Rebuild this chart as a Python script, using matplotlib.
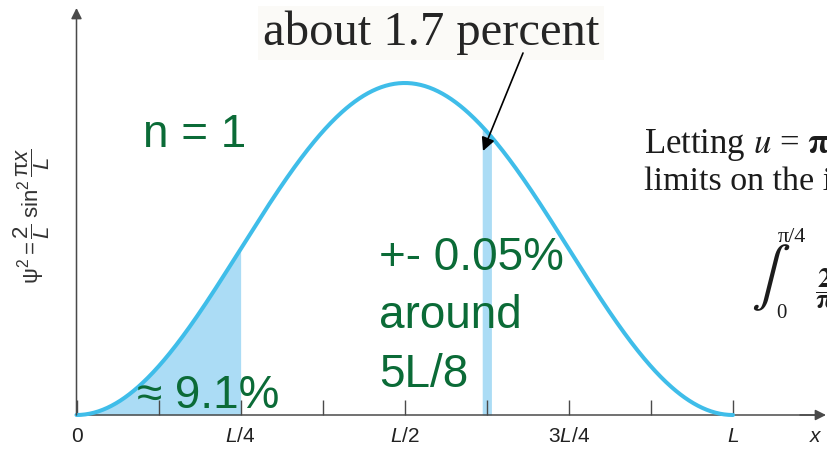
import numpy as np
import matplotlib
matplotlib.use("Agg")
import matplotlib.pyplot as plt

# ---- data ----
L = 1.0
n = 1
shade_range = [0.0, 0.25]          # shaded area 0 .. L/4  (≈ 9.1 %)
band_center = 5 / 8                # narrow band around 5L/8
band_halfwidth = 0.007
major_ticks = [0, 0.25, 0.5, 0.75, 1.0]
major_labels = ["0", "$L$/4", "$L$/2", "3$L$/4", "$L$"]
minor_ticks = [0.125, 0.375, 0.625, 0.875]

plt.rcParams["mathtext.fontset"] = "custom"
plt.rcParams["mathtext.rm"] = "Liberation Sans"
plt.rcParams["mathtext.it"] = "Liberation Sans:italic"
plt.rcParams["mathtext.bf"] = "Liberation Sans:bold"

W, H = 827, 449
fig = plt.figure(figsize=(W / 100, H / 100), dpi=100)
ax = fig.add_axes([0, 0, 1, 1])

# pixel -> data helpers (layout only)
X0, XL, Y0, YP = 76.5, 733.0, 415.0, 83.0
def dx(px):
    return (px - X0) / (XL - X0) * L
def dy(py):
    return (Y0 - py) / (Y0 - YP) * 2 / L

ax.set_xlim(dx(0), dx(W))
ax.set_ylim(dy(H), dy(0))

curve_c = "#3fbde9"
fill_c = "#abdcf5"
green = "#0b6b37"
axis_c = "#4a4a4a"
ink = "#1c1c1c"

x = np.linspace(0, L, 600)
psi2 = (2 / L) * np.sin(n * np.pi * x / L) ** 2

xs = np.linspace(shade_range[0], shade_range[1], 200)
ax.fill_between(xs, 0, (2 / L) * np.sin(n * np.pi * xs / L) ** 2, color=fill_c, lw=0, zorder=1)
xb = np.linspace(band_center - band_halfwidth, band_center + band_halfwidth, 20)
ax.fill_between(xb, 0, (2 / L) * np.sin(n * np.pi * xb / L) ** 2, color=fill_c, lw=0, zorder=1)

ax.plot(x, psi2, color=curve_c, lw=2.9, zorder=3, solid_capstyle="round")

# axes
for s in ["top", "right", "left"]:
    ax.spines[s].set_visible(False)
ax.spines["bottom"].set_position(("data", 0))
ax.spines["bottom"].set_bounds(0, dx(820))
ax.spines["bottom"].set_color(axis_c)
ax.spines["bottom"].set_linewidth(1.1)
ax.set_yticks([])
ax.set_xticks(major_ticks)
ax.set_xticklabels(major_labels)
ax.set_xticks(minor_ticks, minor=True)
ax.tick_params(axis="x", which="both", direction="in", length=11, width=1.0,
               color=axis_c, labelsize=15, pad=9, labelcolor="#222222")
for lab in ax.get_xticklabels():
    lab.set_family("Liberation Sans")

ax.annotate("", xy=(dx(826), 0), xytext=(dx(800), 0),
            arrowprops=dict(arrowstyle="-|>", color=axis_c, lw=1.1, mutation_scale=16,
                            shrinkA=0, shrinkB=0), zorder=4)
ax.annotate("", xy=(0, dy(8)), xytext=(0, 0),
            arrowprops=dict(arrowstyle="-|>", color=axis_c, lw=1.1, mutation_scale=16,
                            shrinkA=0, shrinkB=0), zorder=4)

ax.text(dx(815), dy(437), "x", fontsize=15, style="italic", family="Liberation Sans",
        ha="center", va="center", color="#222222")

# y label
ax.text(dx(32), dy(216),
        r"$\mathrm{ψ}^2 = \dfrac{2}{L}\;\mathrm{sin}^2\,\dfrac{\mathrm{π}x}{L}$",
        rotation=90, fontsize=16, ha="center", va="center", color="#333333")

# note with arrow
ax.text(dx(263), dy(45), "about 1.7 percent", fontsize=35, family="Liberation Serif",
        color="#252525", va="baseline", ha="left",
        bbox=dict(boxstyle="square,pad=0.1", fc="#fbfaf7", ec="none"))
ax.annotate("", xy=(dx(483), dy(151)), xytext=(dx(523), dy(53)),
            arrowprops=dict(arrowstyle="-|>", color="black", lw=1.2, mutation_scale=20,
                            shrinkA=0, shrinkB=0), zorder=5)

# green annotations
gkw = dict(fontsize=33, family="Liberation Sans", color=green, va="baseline", ha="left", zorder=6)
ax.text(dx(143), dy(147), "n = 1", **gkw)
ax.text(dx(379), dy(270), "+- 0.05%", **gkw)
ax.text(dx(379), dy(328), "around", **gkw)
ax.text(dx(379), dy(387), "5L/8", **gkw)
ax.text(dx(137), dy(408), "≈ 9.1%", **gkw)

# partial book text on the right
ax.text(dx(644), dy(153), r"Letting $\mathit{u}$ = $\mathbf{π}$",
        fontsize=25, family="Liberation Serif", color=ink, va="baseline",
        math_fontfamily="stix")
ax.text(dx(644), dy(190), "limits on the i", fontsize=24.5, family="Liberation Serif",
        color=ink, va="baseline")
ax.text(dx(751), dy(278), r"$\int$", fontsize=42, color=ink,
        va="center", ha="left", math_fontfamily="stix")
ax.text(dx(778), dy(242), "π/4", fontsize=16, family="Liberation Serif", color=ink,
        va="baseline", ha="left")
ax.text(dx(776), dy(318), "0", fontsize=15, family="Liberation Serif", color=ink,
        va="baseline", ha="left")
ax.text(dx(815), dy(289), r"$\dfrac{\mathbf{2}}{\mathbf{π}}$", fontsize=20, color=ink,
        va="center", ha="left", math_fontfamily="stix")

fig.savefig("out.png", dpi=100)
